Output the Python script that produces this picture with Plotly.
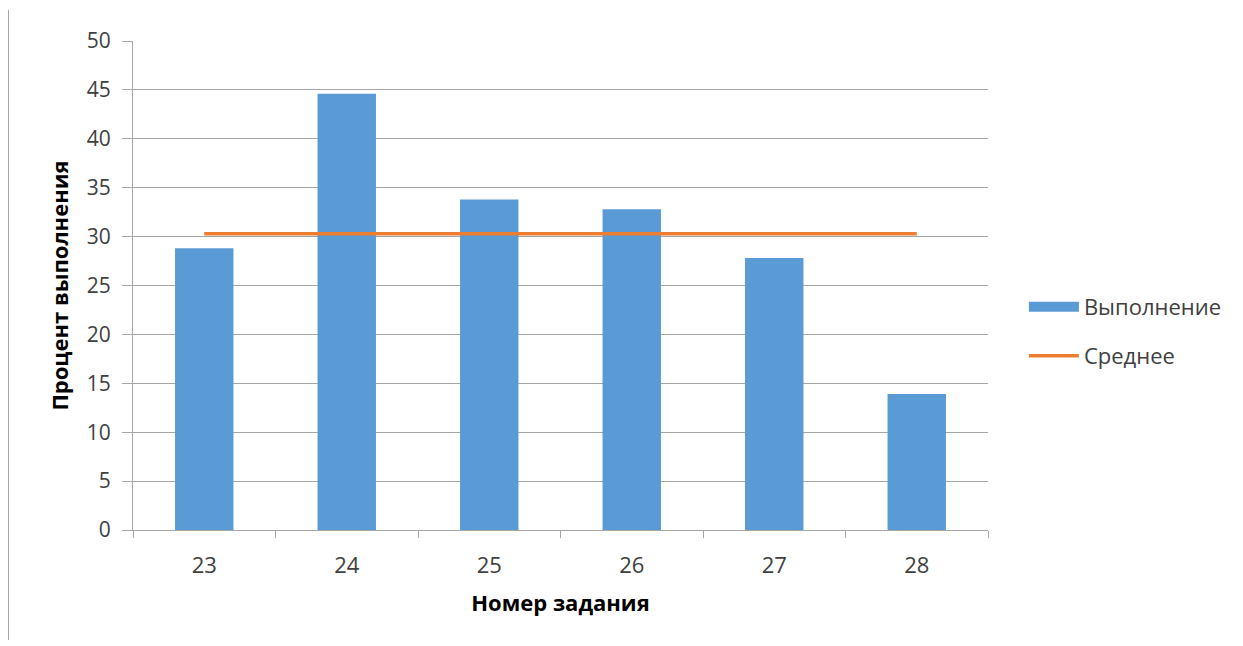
import plotly.graph_objects as go

categories = ["23", "24", "25", "26", "27", "28"]
values = [28.8, 44.6, 33.8, 32.8, 27.8, 13.9]
average = [30.3, 30.3, 30.3, 30.3, 30.3, 30.3]
y_ticks = [0, 5, 10, 15, 20, 25, 30, 35, 40, 45, 50]

FONT = "Open Sans"
BLUE = "#5B9BD5"
ORANGE = "#ED7D31"
fig = go.Figure()
fig.add_trace(go.Bar(x=categories, y=values, name="Выполнение",
                     marker=dict(color=BLUE, line=dict(width=0)),
                     width=0.41, showlegend=False))
# legend proxy for the bar series (wide rectangle swatch)
fig.add_trace(go.Scatter(x=[None], y=[None], name="Выполнение", mode="lines",
                         line=dict(color=BLUE, width=17), legend="legend",
                         showlegend=True, hoverinfo="skip"))
fig.add_trace(go.Scatter(x=categories, y=average, name="Среднее", mode="lines",
                         line=dict(color=ORANGE, width=3.5), legend="legend2",
                         showlegend=True))

fig.update_layout(
    width=1243, height=646,
    margin=dict(l=125, r=263, t=33, b=124),
    paper_bgcolor="white", plot_bgcolor="white",
    showlegend=True,
    font=dict(family=FONT, color="#404040", size=21),
    legend=dict(x=1.042, y=0.456, xanchor="left", yanchor="middle", itemwidth=50,
                font=dict(size=22, color="#404040"), bgcolor="rgba(0,0,0,0)"),
    legend2=dict(x=1.042, y=0.356, xanchor="left", yanchor="middle", itemwidth=50,
                 font=dict(size=22, color="#404040"), bgcolor="rgba(0,0,0,0)"),
    xaxis=dict(type="category", showline=True, linecolor="#a6a6a6", linewidth=1,
               ticks="outside", tickson="boundaries", ticklen=7, tickcolor="#a6a6a6",
               showgrid=False, tickfont=dict(size=22, color="#404040"),
               ticklabelstandoff=16, automargin=False,
               title=dict(text="<b>Номер задания</b>", font=dict(size=22, color="#000000"), standoff=17)),
    yaxis=dict(range=[0, 50], tickvals=y_ticks, showline=True, linecolor="#a6a6a6", linewidth=1,
               ticks="outside", ticklen=10, tickcolor="#a6a6a6",
               showgrid=True, gridcolor="#a6a6a6", gridwidth=1, zeroline=False,
               tickfont=dict(size=21, color="#404040"),
               ticklabelstandoff=7, automargin=False,
               title=dict(text="<b>Процент выполнения</b>", font=dict(size=22, color="#000000"), standoff=12)),
)
fig.add_shape(type="line", xref="paper", yref="paper",
              x0=-0.1456, x1=-0.1456, y0=-0.225, y1=1.064,
              line=dict(color="#a6a6a6", width=1))
fig.write_html("out.html")
